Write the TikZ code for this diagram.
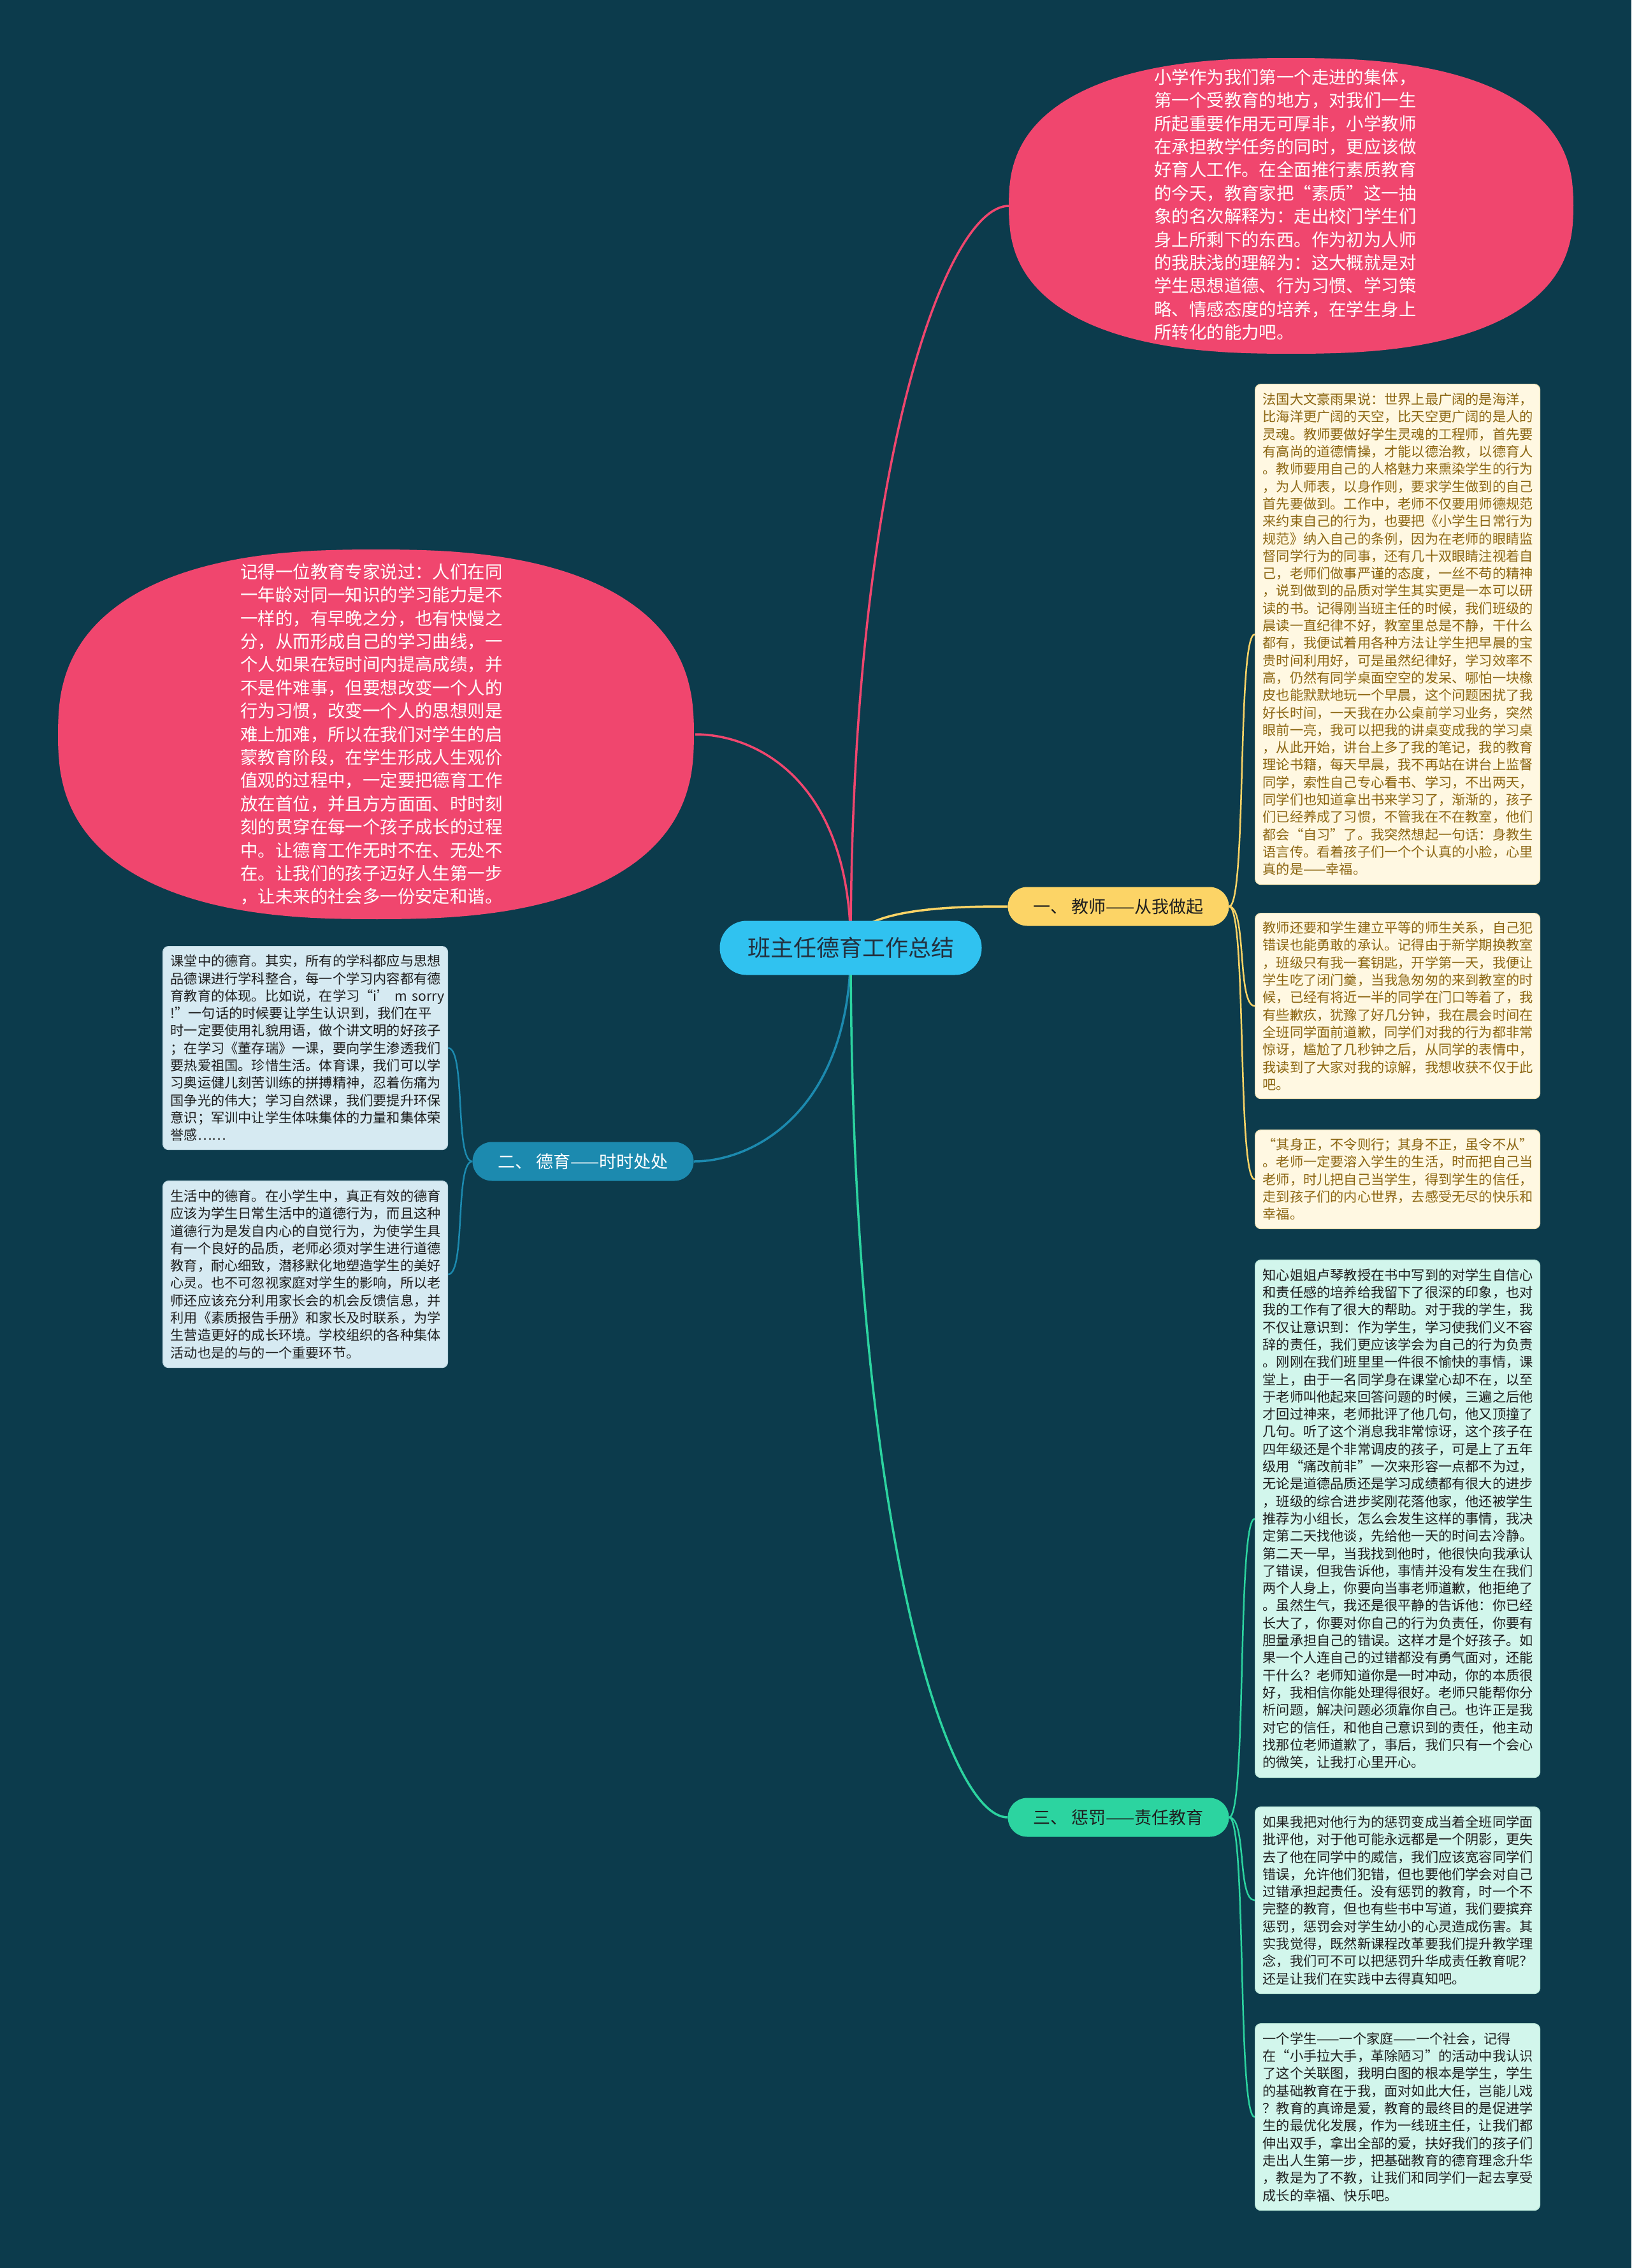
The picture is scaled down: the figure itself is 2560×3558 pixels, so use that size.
\documentclass[tikz,border=0pt]{standalone}
\usepackage{fontspec}
\setmainfont{Noto Sans CJK SC}
\pgfdeclarelayer{bglayer}
\pgfsetlayers{bglayer,main}
\definecolor{bgc}{RGB}{12,59,76}
\definecolor{pinkc}{RGB}{240,70,110}
\definecolor{rootc}{RGB}{48,194,240}
\definecolor{roottext}{RGB}{35,48,62}
\definecolor{yelpill}{RGB}{252,212,102}
\definecolor{yelbox}{RGB}{255,248,226}
\definecolor{yelboxline}{RGB}{240,226,180}
\definecolor{yeltext}{RGB}{140,102,18}
\definecolor{bluepill}{RGB}{28,138,175}
\definecolor{bluebox}{RGB}{214,234,242}
\definecolor{blueboxline}{RGB}{190,215,225}
\definecolor{greenpill}{RGB}{44,212,160}
\definecolor{greenbox}{RGB}{210,246,236}
\definecolor{greenboxline}{RGB}{185,230,215}
\definecolor{darktext}{RGB}{30,30,30}
\tikzset{
  conn/.style={line width=3.5pt},
  subconn/.style={line width=2.5pt},
  pillsty/.style={rounded corners=30.5pt, minimum width=347pt, minimum height=61pt, inner sep=0pt, font=\fontsize{27}{32}\selectfont},
  tbox/.style={rounded corners=9pt, anchor=north west, align=left, inner xsep=12pt, inner ysep=0pt, line width=1.2pt, font=\fontsize{21.2}{27.3}\selectfont},
  ybox/.style={tbox, fill=yelbox, draw=yelboxline, text=yeltext, text width=423pt},
  bbox/.style={tbox, fill=bluebox, draw=blueboxline, text=darktext, text width=423pt},
  gbox/.style={tbox, fill=greenbox, draw=greenboxline, text=darktext, text width=423pt},
  elltext/.style={align=left, inner sep=0pt, text=white, font=\fontsize{27.4}{36.4}\selectfont},
}
\begin{document}
\begin{tikzpicture}[x=1pt,y=1pt]
% pink super-ellipses (exponent 2.5)
\fill[pinkc] plot[domain=0.25:360.25, samples=241, variable=\t]
  ({2026+443*cos(\t)/((abs(cos(\t))^2.5+abs(sin(\t))^2.5)^(0.4))},
   {-323+232*sin(\t)/((abs(cos(\t))^2.5+abs(sin(\t))^2.5)^(0.4))}) -- cycle;
\fill[pinkc] plot[domain=0.25:360.25, samples=241, variable=\t]
  ({590+499*cos(\t)/((abs(cos(\t))^2.5+abs(sin(\t))^2.5)^(0.4))},
   {-1152+290*sin(\t)/((abs(cos(\t))^2.5+abs(sin(\t))^2.5)^(0.4))}) -- cycle;
\coordinate (e1w) at (1583,-323);
\coordinate (e2e) at (1091,-1152);

\node[elltext] (e1) at (2017,-321) {小学作为我们第一个走进的集体，\\第一个受教育的地方，对我们一生\\所起重要作用无可厚非，小学教师\\在承担教学任务的同时，更应该做\\好育人工作。在全面推行素质教育\\的今天，教育家把“素质”这一抽\\象的名次解释为：走出校门学生们\\身上所剩下的东西。作为初为人师\\的我肤浅的理解为：这大概就是对\\学生思想道德、行为习惯、学习策\\略、情感态度的培养，在学生身上\\所转化的能力吧。};

\node[elltext] (e2) at (583,-1152) {记得一位教育专家说过：人们在同\\一年龄对同一知识的学习能力是不\\一样的，有早晚之分，也有快慢之\\分，从而形成自己的学习曲线，一\\个人如果在短时间内提高成绩，并\\不是件难事，但要想改变一个人的\\行为习惯，改变一个人的思想则是\\难上加难，所以在我们对学生的启\\蒙教育阶段，在学生形成人生观价\\值观的过程中，一定要把德育工作\\放在首位，并且方方面面、时时刻\\刻的贯穿在每一个孩子成长的过程\\中。让德育工作无时不在、无处不\\在。让我们的孩子迈好人生第一步\\，让未来的社会多一份安定和谐。};

% root and branches
\node[rounded corners=42pt, minimum width=411pt, minimum height=85pt, inner sep=0pt, fill=rootc, text=roottext, font=\fontsize{36}{42}\selectfont] (root) at (1335,-1487) {班主任德育工作总结};
\node[pillsty, fill=yelpill, text=darktext] (p1) at (1755,-1422) {一、 教师——从我做起};
\node[pillsty, fill=bluepill, text=white] (p2) at (915,-1822) {二、 德育——时时处处};
\node[pillsty, fill=greenpill, text=darktext] (p3) at (1755,-2851) {三、 惩罚——责任教育};

% yellow boxes
\node[ybox, minimum height=785pt] (y1) at (1969,-602) {法国大文豪雨果说：世界上最广阔的是海洋，\\比海洋更广阔的天空，比天空更广阔的是人的\\灵魂。教师要做好学生灵魂的工程师，首先要\\有高尚的道德情操，才能以德治教，以德育人\\。教师要用自己的人格魅力来熏染学生的行为\\，为人师表，以身作则，要求学生做到的自己\\首先要做到。工作中，老师不仅要用师德规范\\来约束自己的行为，也要把《小学生日常行为\\规范》纳入自己的条例，因为在老师的眼睛监\\督同学行为的同事，还有几十双眼睛注视着自\\己，老师们做事严谨的态度，一丝不苟的精神\\，说到做到的品质对学生其实更是一本可以研\\读的书。记得刚当班主任的时候，我们班级的\\晨读一直纪律不好，教室里总是不静，干什么\\都有，我便试着用各种方法让学生把早晨的宝\\贵时间利用好，可是虽然纪律好，学习效率不\\高，仍然有同学桌面空空的发呆、哪怕一块橡\\皮也能默默地玩一个早晨，这个问题困扰了我\\好长时间，一天我在办公桌前学习业务，突然\\眼前一亮，我可以把我的讲桌变成我的学习桌\\，从此开始，讲台上多了我的笔记，我的教育\\理论书籍，每天早晨，我不再站在讲台上监督\\同学，索性自己专心看书、学习，不出两天，\\同学们也知道拿出书来学习了，渐渐的，孩子\\们已经养成了习惯，不管我在不在教室，他们\\都会“自习”了。我突然想起一句话：身教生\\语言传。看着孩子们一个个认真的小脸，心里\\真的是——幸福。};

\node[ybox, minimum height=291pt] (y2) at (1969,-1432) {教师还要和学生建立平等的师生关系，自己犯\\错误也能勇敢的承认。记得由于新学期换教室\\，班级只有我一套钥匙，开学第一天，我便让\\学生吃了闭门羹，当我急匆匆的来到教室的时\\候，已经有将近一半的同学在门口等着了，我\\有些歉疚，犹豫了好几分钟，我在晨会时间在\\全班同学面前道歉，同学们对我的行为都非常\\惊讶，尴尬了几秒钟之后，从同学的表情中，\\我读到了大家对我的谅解，我想收获不仅于此\\吧。};

\node[ybox, minimum height=155pt] (y3) at (1969,-1772) {“其身正，不令则行；其身不正，虽令不从”\\。老师一定要溶入学生的生活，时而把自己当\\老师，时儿把自己当学生，得到学生的信任，\\走到孩子们的内心世界，去感受无尽的快乐和\\幸福。};

% blue boxes
\node[bbox, minimum height=319pt] (b1) at (255,-1484) {课堂中的德育。其实，所有的学科都应与思想\\品德课进行学科整合，每一个学习内容都有德\\育教育的体现。比如说，在学习“i’~m~sorry\\!”一句话的时候要让学生认识到，我们在平\\时一定要使用礼貌用语，做个讲文明的好孩子\\；在学习《董存瑞》一课，要向学生渗透我们\\要热爱祖国。珍惜生活。体育课，我们可以学\\习奥运健儿刻苦训练的拼搏精神，忍着伤痛为\\国争光的伟大；学习自然课，我们要提升环保\\意识；军训中让学生体味集体的力量和集体荣\\誉感……};

\node[bbox, minimum height=293pt] (b2) at (255,-1852) {生活中的德育。在小学生中，真正有效的德育\\应该为学生日常生活中的道德行为，而且这种\\道德行为是发自内心的自觉行为，为使学生具\\有一个良好的品质，老师必须对学生进行道德\\教育，耐心细致，潜移默化地塑造学生的美好\\心灵。也不可忽视家庭对学生的影响，所以老\\师还应该充分利用家长会的机会反馈信息，并\\利用《素质报告手册》和家长及时联系，为学\\生营造更好的成长环境。学校组织的各种集体\\活动也是的与的一个重要环节。};

% green boxes
\node[gbox, minimum height=812pt] (g1) at (1969,-1976) {知心姐姐卢琴教授在书中写到的对学生自信心\\和责任感的培养给我留下了很深的印象，也对\\我的工作有了很大的帮助。对于我的学生，我\\不仅让意识到：作为学生，学习使我们义不容\\辞的责任，我们更应该学会为自己的行为负责\\。刚刚在我们班里里一件很不愉快的事情，课\\堂上，由于一名同学身在课堂心却不在，以至\\于老师叫他起来回答问题的时候，三遍之后他\\才回过神来，老师批评了他几句，他又顶撞了\\几句。听了这个消息我非常惊讶，这个孩子在\\四年级还是个非常调皮的孩子，可是上了五年\\级用“痛改前非”一次来形容一点都不为过，\\无论是道德品质还是学习成绩都有很大的进步\\，班级的综合进步奖刚花落他家，他还被学生\\推荐为小组长，怎么会发生这样的事情，我决\\定第二天找他谈，先给他一天的时间去冷静。\\第二天一早，当我找到他时，他很快向我承认\\了错误，但我告诉他，事情并没有发生在我们\\两个人身上，你要向当事老师道歉，他拒绝了\\。虽然生气，我还是很平静的告诉他：你已经\\长大了，你要对你自己的行为负责任，你要有\\胆量承担自己的错误。这样才是个好孩子。如\\果一个人连自己的过错都没有勇气面对，还能\\干什么？老师知道你是一时冲动，你的本质很\\好，我相信你能处理得很好。老师只能帮你分\\析问题，解决问题必须靠你自己。也许正是我\\对它的信任，和他自己意识到的责任，他主动\\找那位老师道歉了，事后，我们只有一个会心\\的微笑，让我打心里开心。};

\node[gbox, minimum height=293pt] (g2) at (1969,-2834) {如果我把对他行为的惩罚变成当着全班同学面\\批评他，对于他可能永远都是一个阴影，更失\\去了他在同学中的威信，我们应该宽容同学们\\错误，允许他们犯错，但也要他们学会对自己\\过错承担起责任。没有惩罚的教育，时一个不\\完整的教育，但也有些书中写道，我们要摈弃\\惩罚，惩罚会对学生幼小的心灵造成伤害。其\\实我觉得，既然新课程改革要我们提升教学理\\念，我们可不可以把惩罚升华成责任教育呢？\\还是让我们在实践中去得真知吧。};

\node[gbox, minimum height=293pt] (g3) at (1969,-3174) {一个学生——一个家庭——一个社会，记得\\在“小手拉大手，革除陋习”的活动中我认识\\了这个关联图，我明白图的根本是学生，学生\\的基础教育在于我，面对如此大任，岂能儿戏\\？教育的真谛是爱，教育的最终目的是促进学\\生的最优化发展，作为一线班主任，让我们都\\伸出双手，拿出全部的爱，扶好我们的孩子们\\走出人生第一步，把基础教育的德育理念升华\\，教是为了不教，让我们和同学们一起去享受\\成长的幸福、快乐吧。};

\begin{pgfonlayer}{bglayer}
\fill[bgc] (0,0) rectangle (2560,-3558);
% main connectors
\draw[conn, pinkc] (root.center) .. controls +(0,755) and +(-99,0) .. (e1w);
\draw[conn, pinkc] (root.center) .. controls +(0,260) and +(98,0) .. (e2e);
\draw[conn, yelpill] (root.center) .. controls +(0,65) and +(-70,0) .. (p1.west);
\draw[conn, bluepill] (root.center) .. controls +(0,-250) and +(99,0) .. (p2.east);
\draw[conn, greenpill] (root.center) .. controls +(0,-888) and +(-99,0) .. (p3.west);
% sub connectors
\foreach \b in {y1,y2,y3}
  \draw[subconn, yelpill] (p1.east) .. controls +(28,0) and +(-28,0) .. (\b.west);
\foreach \b in {b1,b2}
  \draw[subconn, bluepill] (p2.west) .. controls +(-28,0) and +(28,0) .. (\b.east);
\foreach \b in {g1,g2,g3}
  \draw[subconn, greenpill] (p3.east) .. controls +(28,0) and +(-28,0) .. (\b.west);
\end{pgfonlayer}
\end{tikzpicture}
\end{document}
